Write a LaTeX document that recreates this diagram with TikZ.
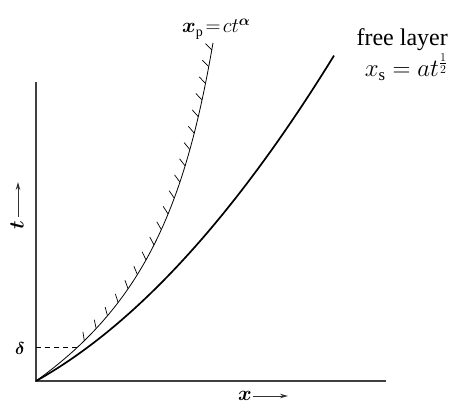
\documentclass[tikz,border=0pt]{standalone}
\usepackage{amsmath}
\usepackage{fontspec}
\setmainfont{Liberation Serif}
\usetikzlibrary{arrows.meta,decorations.markings}
\begin{document}
\begin{tikzpicture}[x=1pt,y=1pt,
  axis/.style={line width=1.2pt, black!75},
  thincurve/.style={line width=0.8pt},
  thickcurve/.style={line width=1.7pt},
  hatched/.style={postaction={decorate}, decoration={markings,
     mark=between positions 63pt and -5pt step 17pt with {\draw[line width=0.7pt] (0,0) -- (55:9pt);}}},
  lbl/.style={inner sep=0pt, font=\fontsize{20}{24}\selectfont},
  biglbl/.style={inner sep=0pt, font=\fontsize{24}{28}\selectfont},
  axarrow/.style={line width=0.9pt, black!80, -{Stealth[length=8pt,width=4.5pt]}},
  dashline/.style={line width=0.7pt, dash pattern=on 5pt off 4pt}
]
\useasboundingbox (0,0) rectangle (458,404);
% axes
\coordinate (O) at (36,23);
\coordinate (ytop) at (36,322);
\coordinate (xend) at (386,23);
\draw[axis] (ytop) -- (O) -- (xend);
% dashed delta line
\coordinate (d0) at (36,57);
\coordinate (d1) at (79,57);
\draw[dashline] (d0) -- (d1);
% curves
\draw[thincurve, hatched] plot[domain=0:338, samples=150, variable=\s]
  ({36+151.5*(1-exp(-\s/116.5))+0.1*\s}, {23+\s});
\draw[thickcurve] plot[domain=0:298, samples=150, variable=\u]
  ({36+\u}, {23+0.56*\u+0.00178*\u*\u});
% labels
\node[lbl, anchor=base west] (xp) at (182,371) {$\boldsymbol{x}_{\mathrm{p}}\!=\!ct^{\boldsymbol{\alpha}}$};
\node[biglbl, anchor=base east] (free) at (448,358) {free layer};
\node[biglbl, anchor=base east] (xs) at (448,327) {$x_{\mathrm{s}}=at^{\frac{1}{2}}$};
\node[lbl, font=\fontsize{19}{22}\selectfont] (delta) at (20,55) {$\boldsymbol{\delta}$};
\node[lbl, rotate=90] (tl) at (17,179) {$\boldsymbol{t}$};
\coordinate (ta) at (18,187);
\coordinate (tb) at (18,222);
\draw[axarrow] (ta) -- (tb);
\node[lbl] (xl) at (245,8) {$\boldsymbol{x}$};
\coordinate (xa) at (253,8);
\coordinate (xb) at (288,8);
\draw[axarrow] (xa) -- (xb);
\end{tikzpicture}
\end{document}
